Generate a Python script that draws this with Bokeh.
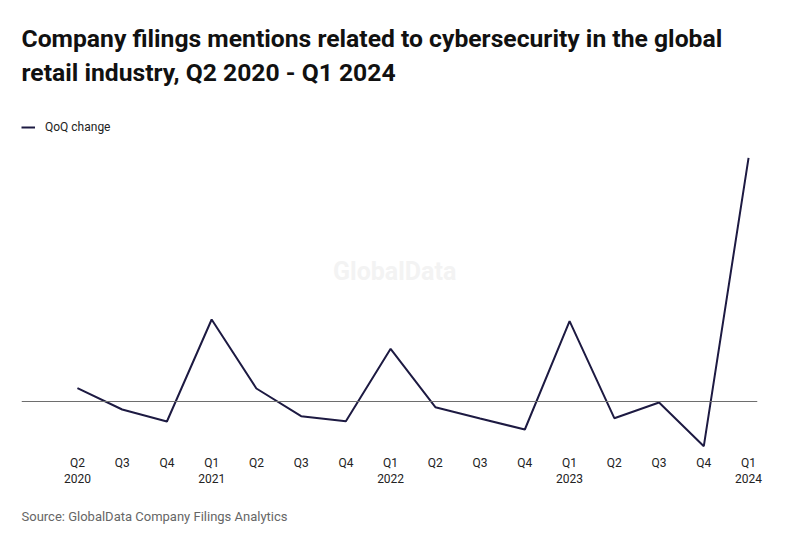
from bokeh.plotting import figure
from bokeh.models import FixedTicker, Title, Span, Label, Legend, LegendItem, Range1d, ColumnDataSource
from bokeh.embed import file_html
from bokeh.resources import INLINE

quarters = ["Q2\n2020", "Q3", "Q4", "Q1\n2021", "Q2", "Q3", "Q4", "Q1\n2022",
            "Q2", "Q3", "Q4", "Q1\n2023", "Q2", "Q3", "Q4", "Q1\n2024"]
qoq_change = [13.3, -8, -20, 82, 13, -14.7, -19.7, 52.7,
              -5.7, -17, -28, 80.3, -16.7, -1, -44.7, 243.7]

idx = list(range(len(quarters)))
src = ColumnDataSource(data=dict(x=idx, y=qoq_change))

FONT = "Roboto"
p = figure(frame_width=736, frame_height=364, output_backend="svg", toolbar_location=None,
           x_range=Range1d(-1.25, 15.2), y_range=Range1d(-50, 314),
           min_border_left=21, min_border_right=37, min_border_top=87, min_border_bottom=10)
p.outline_line_color = None
p.background_fill_color = "white"
p.border_fill_color = "white"
p.grid.visible = False
p.yaxis.visible = False

ax = p.xaxis[0]
ax.ticker = FixedTicker(ticks=idx)
ax.major_label_overrides = {i: q for i, q in zip(idx, quarters)}
ax.axis_line_color = None
ax.major_tick_line_color = None
ax.minor_tick_line_color = None
ax.major_label_text_font = FONT
ax.major_label_text_font_size = "12px"
ax.major_label_text_color = "#222222"
ax.major_label_text_line_height = 1.15
ax.major_label_standoff = -2

zero = Span(location=0, dimension="width", line_color="#6e6e6e", line_width=1.2)
p.add_layout(zero)

wm = Label(x=7.09, y=130, text="GlobalData", text_font=FONT, text_font_style="bold",
           text_font_size="25px", text_color="#f3f3f3", text_align="center", text_baseline="middle")
p.add_layout(wm)

r = p.line("x", "y", source=src, line_color="#1d1a42", line_width=2)

legend = Legend(items=[LegendItem(label="QoQ change", renderers=[r])], location=(0, 316),
                margin=0, padding=0, glyph_width=14, glyph_height=16, label_standoff=10,
                label_text_font=FONT, label_text_font_size="12px", label_text_color="#222222",
                border_line_color=None, background_fill_alpha=0)
p.add_layout(legend)

t2 = Title(text="retail industry, Q2 2020 - Q1 2024", text_font=FONT, text_font_style="bold",
           text_font_size="24.7px", text_color="#111111", align="left", offset=0, standoff=2)
t1 = Title(text="Company filings mentions related to cybersecurity in the global", text_font=FONT,
           text_font_style="bold", text_font_size="24.7px", text_color="#111111", align="left", offset=0, standoff=4)
p.add_layout(t2, "above")
p.add_layout(t1, "above")

src_t = Title(text="Source: GlobalData Company Filings Analytics", text_font=FONT, text_font_style="normal",
              text_font_size="13px", text_color="#666666", align="left", offset=0, standoff=37)
p.add_layout(src_t, "below")

open("out.html", "w").write(file_html(p, INLINE))
